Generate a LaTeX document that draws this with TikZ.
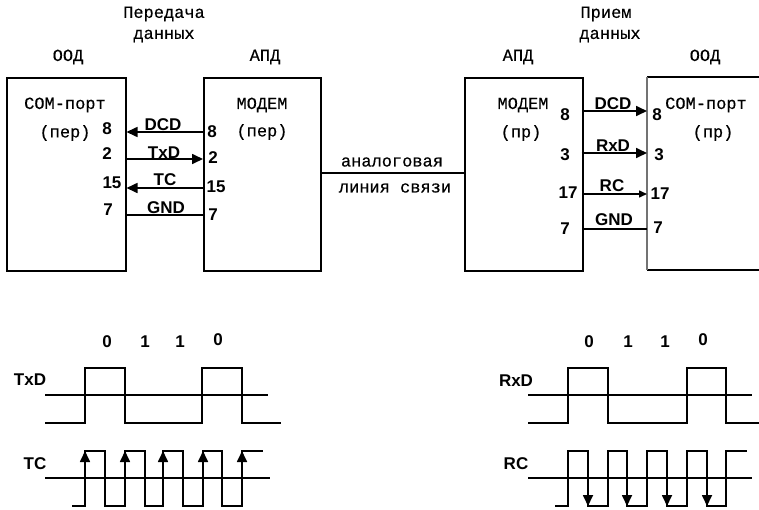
\documentclass[tikz,border=0pt]{standalone}
\usepackage{fontspec}
\setmainfont{Liberation Sans}
\newfontfamily\monof[FakeBold=0.35]{Liberation Mono}
\usetikzlibrary{arrows.meta}
\tikzset{
  x=1pt,y=-1pt,
  box/.style={draw,line width=1.5pt,minimum width=#1,minimum height=193pt,inner sep=0pt,anchor=north west},
  mono/.style={font=\monof\fontsize{17}{17}\selectfont,inner sep=0pt},
  sig/.style={font=\bfseries\fontsize{17}{17}\selectfont,inner sep=0pt},
  wire/.style={line width=1.5pt},
  wave/.style={line width=1.7pt,line join=miter},
  tip/.style={-{Triangle[length=11pt,width=10pt]},line width=1.7pt},
  rtip/.style={{Triangle[length=11pt,width=10pt]}-,line width=1.6pt},
  stip/.style={-{Triangle[length=8pt,width=7pt]},line width=1.5pt}
}
\begin{document}
\begin{tikzpicture}
\useasboundingbox (0,0) rectangle (759,509);
\node[box=119pt] (b1) at (6,77) {};
\node[box=117pt] (b2) at (203,77) {};
\node[box=118pt] (b3) at (464,77) {};
\draw[line width=1.5pt] (759,77) coordinate (b4tr) -- (647,77) coordinate (b4tl);
\draw[line width=1.5pt] (647,270) coordinate (b4bl) -- (759,270) coordinate (b4br);
\draw[line width=1.1pt,black!55] (b4tl) -- (b4bl);
% headings
\node[mono] (h1) at (164,14) {Передача};
\node[mono] (h2) at (164,36) {данных};
\node[mono] (h3) at (606,14) {Прием};
\node[mono] (h4) at (610,36) {данных};
\node[mono] (t1) at (68,57) {ООД};
\node[mono] (t2) at (265,57) {АПД};
\node[mono] (t3) at (518,57) {АПД};
\node[mono] (t4) at (705,57) {ООД};
\node[mono] (c1) at (65,105) {СОМ-порт};
\node[mono] (c2) at (65,133) {(пер)};
\node[mono] (m1) at (262,105) {МОДЕМ};
\node[mono] (m2) at (262,132) {(пер)};
\node[mono] (m3) at (523,105) {МОДЕМ};
\node[mono] (m4) at (521,133) {(пр)};
\node[mono] (c3) at (706,105) {СОМ-порт};
\node[mono] (c4) at (713,133) {(пр)};
\node[mono] (l1) at (392,162) {аналоговая};
\node[mono] (l2) at (395,188) {линия связи};
% analog line
\draw[line width=1.7pt] (b2.east |- 0,173) -- (b3.west |- 0,173);
% left wires
\draw[wire,rtip] (b1.east |- 0,132) -- (b2.west |- 0,132);
\draw[wire,tip] (b1.east |- 0,159) -- (b2.west |- 0,159);
\draw[wire,rtip] (b1.east |- 0,188) -- (b2.west |- 0,188);
\draw[wire] (b1.east |- 0,215) -- (b2.west |- 0,215);
\foreach \n/\t/\xx/\yy in {a1/8/107/129,a2/2/107/154,a3/15/112/183,a4/7/108/210,a5/8/212/132,a6/2/213/158,a7/15/216/187,a8/7/213/215,
  n1/8/565/115,n2/3/565/155,n3/17/568/193,n4/7/565/229,n5/8/657/115,n6/3/659/155,n7/17/660/194,n8/7/658/228,
  d1/0/107/342,d2/1/145/342,d3/1/180/342,d4/0/218/340,d5/0/589/342,d6/1/628/342,d7/1/665/342,d8/0/703/340}
  \node[sig] (\n) at (\xx,\yy) {\t};
\foreach \n/\t/\xx/\yy in {s1/DCD/163/125,s2/TxD/164/153,s3/TC/165/180,s4/GND/166/208,
  s5/DCD/613/104,s6/RxD/613/146,s7/RC/612/186,s8/GND/614/220,
  w1/TxD/30/380,w2/TC/35/464,w3/RxD/516/381,w4/RC/516/464}
  \node[sig] (\n) at (\xx,\yy) {\t};
% right wires
\draw[wire,tip] (b3.east |- 0,111) -- (b4tl |- 0,111);
\draw[wire,tip] ([xshift=-2pt]b3.east |- 0,153) -- (b4tl |- 0,153);
\draw[wire,stip] (b3.east |- 0,194) -- (b4tl |- 0,194);
\draw[wire] (b3.east |- 0,229) -- (b4tl |- 0,229);
% left waveforms
\draw[wave] (45,395) -- (268,395);
\draw[wave] (45,423) -| (85,368) -| (125,423) -| (202,368) -| (242,423) -- (281,423);
\draw[wave] (45,478) -- (270,478);
\draw[wave] (72,506) -| (85,451) -| (105,506) -| (125,451) -| (145,506) -| (163,451) -| (183,506) -| (203,451) -| (222,506) -| (242,451) -- (263,451);
\foreach \xx in {85,125,163,203,242}
  \draw[tip] (\xx,472) -- (\xx,451);
% right waveforms
\draw[wave] (528,395) -- (752,395);
\draw[wave] (528,423) -| (568,368) -| (608,423) -| (687,368) -| (726,423) -- (759,423);
\draw[wave] (528,478) -- (752,478);
\draw[wave] (555,506) -| (568,451) -| (588,506) -| (608,451) -| (627,506) -| (647,451) -| (667,506) -| (687,451) -| (707,506) -| (726,451) -- (747,451);
\foreach \xx in {588,627,667,707}
  \draw[tip] (\xx,485) -- (\xx,506);
\end{tikzpicture}
\end{document}
